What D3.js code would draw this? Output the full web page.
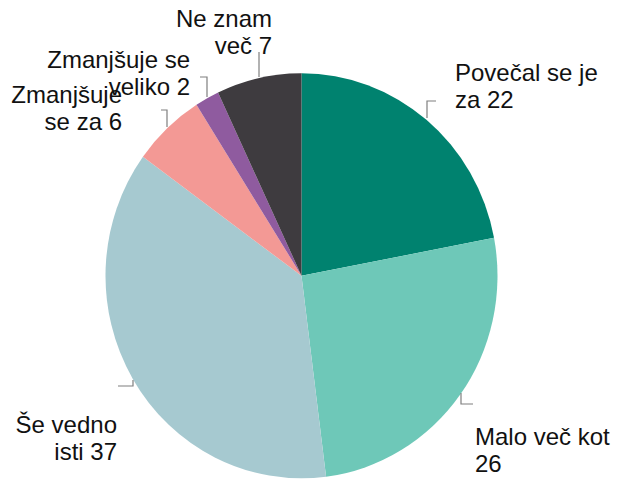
<!DOCTYPE html>
<html>
<head>
<meta charset="utf-8">
<script src="https://cdn.jsdelivr.net/npm/d3@7"></script>
<style>
html,body{margin:0;padding:0;background:#fff;}
svg{display:block;}
text{font-family:"Liberation Sans",Arial,sans-serif;font-size:24px;fill:#111;}
</style>
</head>
<body>
<svg id="chart" width="627" height="479"></svg>
<script>
// Data
const categories = ["Povečal se je za", "Malo več kot", "Še vedno isti", "Zmanjšuje se za", "Zmanjšuje se veliko", "Ne znam več"];
const values = [22, 26, 37, 6, 2, 7];
const labelLines = [
  ["Povečal se je", "za 22"],
  ["Malo več kot", "26"],
  ["Še vedno", "isti 37"],
  ["Zmanjšuje", "se za 6"],
  ["Zmanjšuje se", "veliko 2"],
  ["Ne znam", "več 7"]
];
const colors = ["#00826f", "#6ec8b8", "#a6c9d0", "#f39995", "#8f5b9f", "#3e3b3f"];

// Layout (not data)
const cx = 301.5, cy = 275.8, R = 200, sx = 196 / 200, sy = 202.5 / 200;
const labelPos = [
  {x: 455, y: 81, anchor: "start"},
  {x: 475, y: 445, anchor: "start"},
  {x: 117, y: 433, anchor: "end"},
  {x: 122, y: 103, anchor: "end"},
  {x: 190, y: 68, anchor: "end"},
  {x: 272, y: 27, anchor: "end"}
];
const leaders = [
  [[427, 118], [427, 101], [436, 101]],
  [[461, 393], [461, 404], [473, 404]],
  [[133, 380], [133, 386], [118, 386]],
  [[167, 127], [167, 110], [161, 110]],
  [[207, 97], [207, 77], [200, 77]],
  [[259, 77], [259, 52]]
];
const lineH = 27;

const svg = d3.select("#chart");
const pie = d3.pie().sort(null).value(d => d);
const arc = d3.arc().innerRadius(0).outerRadius(R);

const g = svg.append("g").attr("transform", `translate(${cx},${cy}) scale(${sx},${sy})`);
g.selectAll("path").data(pie(values)).join("path")
  .attr("d", arc)
  .attr("fill", (d, i) => colors[i]);

const line = d3.line();
svg.append("g").selectAll("path").data(leaders).join("path")
  .attr("d", d => line(d))
  .attr("fill", "none")
  .attr("stroke", "#7f7f7f")
  .attr("stroke-width", 1.2);

const lg = svg.append("g");
labelLines.forEach((lines, i) => {
  const p = labelPos[i];
  const t = lg.append("text").attr("x", p.x).attr("y", p.y).attr("text-anchor", p.anchor);
  lines.forEach((s, j) => {
    t.append("tspan").attr("x", p.x).attr("y", p.y + j * lineH).text(s);
  });
});
</script>
</body>
</html>
